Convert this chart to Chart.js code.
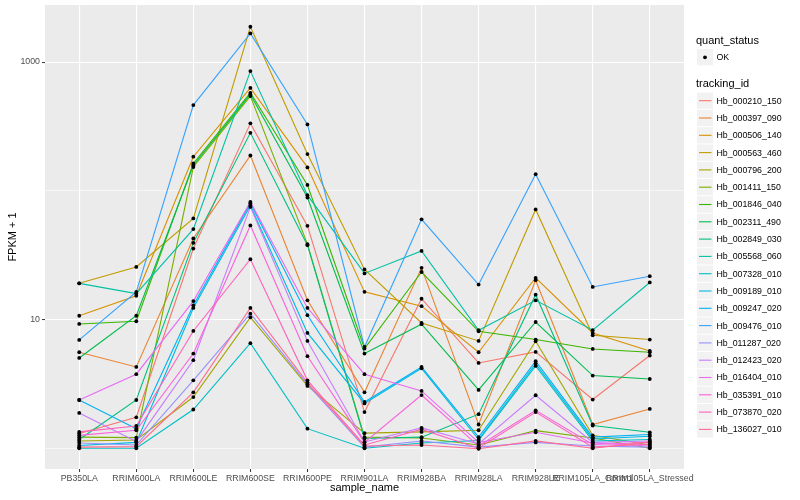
<!DOCTYPE html>
<html>
<head>
<meta charset="utf-8">
<script src="https://cdn.jsdelivr.net/npm/chart.js@4.4.1/dist/chart.umd.min.js"></script>
<style>
    html, body { margin: 0; padding: 0; background: #fff; }
    canvas { display: block; }
</style>
</head>
<body>
<canvas id="chart" width="800" height="500"></canvas>
<script>
const sampleNames = ['PB350LA', 'RRIM600LA', 'RRIM600LE', 'RRIM600SE', 'RRIM600PE', 'RRIM901LA',
    'RRIM928BA', 'RRIM928LA', 'RRIM928LE', 'RRIM105LA_Control', 'RRIM105LA_Stressed'];

const trackingIds = ['Hb_000210_150', 'Hb_000397_090', 'Hb_000506_140', 'Hb_000563_460', 'Hb_000796_200',
    'Hb_001411_150', 'Hb_001846_040', 'Hb_002311_490', 'Hb_002849_030', 'Hb_005568_060',
    'Hb_007328_010', 'Hb_009189_010', 'Hb_009247_020', 'Hb_009476_010', 'Hb_011287_020',
    'Hb_012423_020', 'Hb_016404_010', 'Hb_035391_010', 'Hb_073870_020', 'Hb_136027_010'];

const lineColors = ['#F8766D', '#EA8331', '#D89000', '#C09B00', '#A3A500', '#7CAE00', '#39B600', '#00BB4E',
    '#00BF7D', '#00C1A3', '#00BFC4', '#00BAE0', '#00B0F6', '#35A2FF', '#9590FF', '#C77CFF',
    '#E76BF3', '#FA62DB', '#FF62BC', '#FF6C91'];

// FPKM + 1 per sample, in sampleNames order
const hb000210 = [1.30, 1.74, 35.6, 334, 53.4, 1.91, 14.5, 4.6, 5.6, 2.39, 5.25];
const hb000397 = [5.57, 4.28, 42.6, 188, 14.1, 2.72, 25.2, 1.53, 20.2, 1.53, 2.02];
const hb000506 = [10.7, 15.3, 184, 630, 152, 16.4, 12.7, 5.57, 21.1, 7.87, 5.7];
const hb000563 = [19.1, 25.6, 61, 1880, 193, 24.5, 9.41, 6.82, 71.6, 7.55, 6.99];
const hb000796 = [1.14, 1.16, 2.5, 10.4, 3.05, 1.31, 1.34, 1.38, 6.78, 1.26, 1.06];
const hb001411 = [1.22, 1.21, 153, 544, 38.5, 1.22, 1.2, 1.06, 1.37, 1.2, 1.0];
const hb001846 = [9.24, 9.7, 163, 577, 111, 5.95, 23.4, 8.1, 6.99, 5.91, 5.57];
const hb002311 = [5.03, 10.7, 158, 561, 88.7, 5.44, 9.2, 2.84, 9.57, 3.67, 3.45];
const hb002849 = [1.17, 2.37, 39.4, 282, 37.8, 1.19, 1.22, 1.84, 15.6, 1.5, 1.33];
const hb005568 = [19.1, 15.9, 50.4, 851, 92.5, 22.8, 34.1, 8.26, 14.1, 8.26, 19.4];
const hb007328 = [1.0, 1.0, 2.0, 6.55, 1.42, 1.0, 1.10, 1.15, 4.36, 1.14, 1.17];
const hb009189 = [1.05, 1.11, 12.3, 77, 7.87, 2.23, 4.18, 1.17, 4.55, 1.18, 1.24];
const hb009247 = [2.37, 1.42, 12.9, 80, 10.8, 2.29, 4.28, 1.22, 4.74, 1.22, 1.28];
const hb009476 = [6.94, 16.4, 463, 1670, 328, 6.12, 60, 18.7, 134.6, 17.9, 21.7];
const hb011287 = [1.10, 1.06, 3.37, 11.1, 3.14, 1.02, 1.14, 1.02, 1.11, 1.04, 1.02];
const hb012423 = [1.88, 1.13, 4.83, 75, 6.82, 1.12, 1.44, 1.08, 2.58, 1.11, 1.14];
const hb016404 = [2.37, 3.76, 13.9, 82, 12.3, 3.76, 2.79, 1.11, 1.33, 1.1, 1.04];
const hb035391 = [1.26, 1.38, 5.44, 53.8, 5.19, 1.11, 2.59, 1.04, 1.97, 1.07, 1.11];
const hb073870 = [1.34, 1.49, 8.15, 29.4, 3.37, 1.06, 1.40, 1.0, 1.91, 1.02, 1.08];
const hb136027 = [1.02, 1.03, 2.72, 12.3, 3.24, 1.04, 1.06, 0.99, 1.14, 1.0, 1.12];

const seriesValues = [hb000210, hb000397, hb000506, hb000563, hb000796, hb001411, hb001846, hb002311,
    hb002849, hb005568, hb007328, hb009189, hb009247, hb009476, hb011287, hb012423,
    hb016404, hb035391, hb073870, hb136027];

const yTicks = [1, 10, 100, 1000];
const yLabels = { 10: '10', 1000: '1000' };

const FONT = '"Liberation Sans", Arial, sans-serif';

const datasets = seriesValues.map((vals, i) => ({
    label: trackingIds[i],
    data: vals.map((v, j) => ({ x: j, y: v })),
    borderColor: lineColors[i],
    backgroundColor: lineColors[i],
    borderWidth: 1.1,
    pointRadius: 0,
    tension: 0,
    order: seriesValues.length - i
}));

// panel background like ggplot
const panelBg = {
    id: 'panelBg',
    beforeDraw(chart) {
        const { ctx, chartArea: a } = chart;
        ctx.save();
        ctx.fillStyle = '#EBEBEB';
        ctx.fillRect(a.left, a.top, a.right - a.left, a.bottom - a.top);
        ctx.restore();
    }
};

// black points on top of all lines
const dots = {
    id: 'dots',
    afterDatasetsDraw(chart) {
        const ctx = chart.ctx;
        ctx.save();
        ctx.fillStyle = '#000';
        chart.data.datasets.forEach((ds, i) => {
            chart.getDatasetMeta(i).data.forEach(pt => {
                ctx.beginPath();
                ctx.arc(pt.x, pt.y, 1.9, 0, Math.PI * 2);
                ctx.fill();
            });
        });
        ctx.restore();
    }
};

// axis titles and the two-part legend
const decorations = {
    id: 'decorations',
    afterDraw(chart) {
        const { ctx, chartArea: a } = chart;
        ctx.save();
        ctx.fillStyle = '#000';
        ctx.textBaseline = 'middle';

        ctx.font = '11px ' + FONT;
        ctx.textAlign = 'center';
        ctx.fillText('sample_name', (a.left + a.right) / 2, 488);
        ctx.save();
        ctx.translate(13, (a.top + a.bottom) / 2);
        ctx.rotate(-Math.PI / 2);
        ctx.fillText('FPKM + 1', 0, 0);
        ctx.restore();

        const lx = 697, keyW = 16, keyH = 17.3;
        ctx.textAlign = 'left';
        ctx.fillText('quant_status', lx - 1, 41);
        ctx.fillStyle = '#F2F2F2';
        ctx.fillRect(lx, 49, keyW, keyH - 1);
        ctx.fillStyle = '#000';
        ctx.beginPath();
        ctx.arc(lx + 8, 57.3, 1.9, 0, Math.PI * 2);
        ctx.fill();
        ctx.font = '8.8px ' + FONT;
        ctx.fillText('OK', 716.5, 57.5);

        ctx.font = '11px ' + FONT;
        ctx.fillText('tracking_id', lx - 1, 84);
        ctx.font = '8.8px ' + FONT;
        chart.data.datasets.forEach((ds, i) => {
            const cy = 100.7 + i * keyH;
            ctx.fillStyle = '#F2F2F2';
            ctx.fillRect(lx, cy - keyH / 2 + 0.5, keyW, keyH - 1);
            ctx.strokeStyle = ds.borderColor;
            ctx.lineWidth = 1.1;
            ctx.beginPath();
            ctx.moveTo(lx + 2, cy);
            ctx.lineTo(lx + 14.5, cy);
            ctx.stroke();
            ctx.fillStyle = '#000';
            ctx.fillText(ds.label, 716.5, cy + 0.5);
        });
        ctx.restore();
    }
};

new Chart(document.getElementById('chart'), {
    type: 'line',
    data: { datasets },
    options: {
        responsive: false,
        animation: false,
        layout: { padding: { top: 5, right: 116, bottom: 0, left: 0 } },
        plugins: { legend: { display: false }, tooltip: { enabled: false } },
        scales: {
            x: {
                type: 'linear',
                min: -0.6,
                max: 10.6,
                afterBuildTicks: scale => { scale.ticks = sampleNames.map((n, i) => ({ value: i })); },
                afterFit: scale => { scale.height = 31; scale.paddingLeft = 0; scale.paddingRight = 0; },
                border: { display: false },
                grid: { color: '#FFFFFF', lineWidth: 1.1, tickColor: '#333333', tickLength: 3, tickWidth: 1 },
                ticks: {
                    autoSkip: false,
                    maxRotation: 0,
                    minRotation: 0,
                    padding: 1,
                    color: '#4D4D4D',
                    font: { family: FONT, size: 8.8 },
                    callback: v => sampleNames[v]
                }
            },
            y: {
                type: 'logarithmic',
                min: 0.69,
                max: 2775,
                afterBuildTicks: scale => { scale.ticks = yTicks.map(v => ({ value: v })); },
                afterFit: scale => { scale.width = 45; scale.paddingTop = 0; scale.paddingBottom = 0; },
                border: { display: false },
                grid: {
                    color: '#FFFFFF',
                    lineWidth: c => (c.tick && yLabels[c.tick.value]) ? 1.1 : 0.55,
                    tickColor: c => (c.tick && yLabels[c.tick.value]) ? '#333333' : 'rgba(0,0,0,0)',
                    tickLength: 3,
                    tickWidth: 1
                },
                ticks: {
                    padding: 2,
                    color: '#4D4D4D',
                    font: { family: FONT, size: 8.8 },
                    callback: v => yLabels[v] || ''
                }
            }
        }
    },
    plugins: [panelBg, dots, decorations]
});
</script>
</body>
</html>
